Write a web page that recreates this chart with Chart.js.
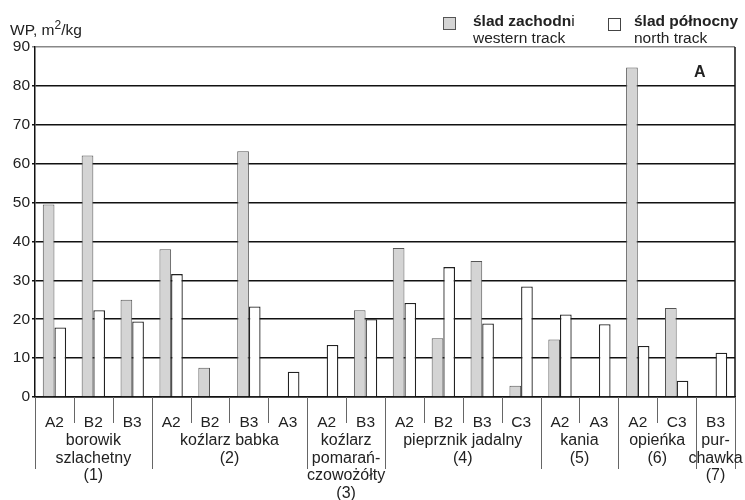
<!DOCTYPE html>
<html>
<head>
<meta charset="utf-8">
<script src="https://cdn.jsdelivr.net/npm/chart.js@4/dist/chart.umd.min.js"></script>
<style>
  html, body { margin: 0; padding: 0; background: #fff; }
  body { width: 745px; height: 500px; position: relative; overflow: hidden;
         font-family: "Liberation Sans", Arial, sans-serif; color: #222; }
  #wrap { position: absolute; left: 0; top: 0; width: 745px; height: 500px; }
  .t { position: absolute; font-size: 15.5px; line-height: 17px; white-space: nowrap; color: #222; }
  .box { position: absolute; width: 11px; height: 11px; border: 1px solid #444; }
</style>
</head>
<body>
<div id="wrap"><canvas id="c"></canvas></div>
<div class="t" style="left:10px; top:21px;">WP, m<sup style="font-size:12px; vertical-align: 6px; line-height:0;">2</sup>/kg</div>
<div class="box" style="left:443px; top:17px; background:#d4d4d4; border-color:#555;"></div>
<div class="t" style="left:473px; top:12px;"><b>ślad zachodn</b>i</div>
<div class="t" style="left:473px; top:29px;">western track</div>
<div class="box" style="left:608px; top:18px; background:#fff;"></div>
<div class="t" style="left:634px; top:12px;"><b>ślad północny</b></div>
<div class="t" style="left:634px; top:29px;">north track</div>
<div class="t" style="left:694px; top:63px; font-size:16px; font-weight:bold;">A</div>
<script>
const subLabels = ['A2','B2','B3','A2','B2','B3','A3','A2','B3','A2','B2','B3','C3','A2','A3','A2','C3','B3'];
const westernTrack = [49.5, 62.1, 25.0, 38.0, 7.5, 63.2, null, null, 22.3, 38.3, 15.1, 35.0, 2.9, 14.8, null, 84.7, 22.9, null];
const northTrack = [17.9, 22.3, 19.4, 31.6, null, 23.3, 6.5, 13.4, 20.0, 24.2, 33.4, 18.9, 28.4, 21.2, 18.7, 13.1, 4.2, 11.4];
const groupNames = [
  ['borowik','szlachetny','(1)'],
  ['koźlarz babka','(2)'],
  ['koźlarz','pomarań-','czowożółty','(3)'],
  ['pieprznik jadalny','(4)'],
  ['kania','(5)'],
  ['opieńka','(6)'],
  ['pur-','chawka','(7)']
];
const groupSizes = [3,4,2,4,2,2,1];
const yTicks = [0,10,20,30,40,50,60,70,80,90];

const FONT = '"Liberation Sans", Arial, sans-serif';

const groupPlugin = {
  id: 'groupPlugin',
  afterDraw(chart) {
    const ctx = chart.ctx;
    const x = chart.scales.x;
    const area = chart.chartArea;
    const n = subLabels.length;
    const step = (x.right - x.left) / n;
    const b = (i) => i < n ? x.getPixelForValue(i) - step / 2 : x.getPixelForValue(n - 1) + step / 2;
    ctx.save();
    // right border
    ctx.strokeStyle = '#111';
    ctx.lineWidth = 1.5;
    ctx.beginPath();
    ctx.moveTo(area.right, area.top);
    ctx.lineTo(area.right, area.bottom);
    ctx.stroke();
    // sub separators
    ctx.strokeStyle = '#666';
    ctx.lineWidth = 1;
    for (let i = 0; i <= n; i++) {
      const px = Math.round(b(i)) + 0.5;
      ctx.beginPath();
      ctx.moveTo(px, area.bottom);
      ctx.lineTo(px, area.bottom + 26);
      ctx.stroke();
    }
    // group separators and labels
    let start = 0;
    const bounds = [0];
    groupSizes.forEach(s => { start += s; bounds.push(start); });
    bounds.forEach(k => {
      const px = Math.round(b(k)) + 0.5;
      ctx.beginPath();
      ctx.moveTo(px, area.bottom);
      ctx.lineTo(px, area.bottom + 72);
      ctx.stroke();
    });
    ctx.font = '16px ' + FONT;
    ctx.fillStyle = '#222';
    ctx.textAlign = 'center';
    ctx.textBaseline = 'middle';
    for (let g = 0; g < groupSizes.length; g++) {
      const cx = (b(bounds[g]) + b(bounds[g + 1])) / 2;
      groupNames[g].forEach((line, j) => {
        ctx.fillText(line, cx, area.bottom + 44 + j * 17.5);
      });
    }
    ctx.restore();
  }
};

new Chart(document.getElementById('c'), {
  type: 'bar',
  data: {
    labels: subLabels,
    datasets: [
      { label: 'ślad zachodni', data: westernTrack, backgroundColor: '#d4d4d4', borderColor: '#555', borderWidth: 1 },
      { label: 'ślad północny', data: northTrack, backgroundColor: '#ffffff', borderColor: '#222', borderWidth: 1.3 }
    ]
  },
  options: {
    responsive: true,
    maintainAspectRatio: false,
    animation: false,
    devicePixelRatio: 1,
    layout: { padding: { left: 0, right: 10, top: 47, bottom: 0 } },
    datasets: { bar: { categoryPercentage: 0.6, barPercentage: 1.0 } },
    plugins: { legend: { display: false }, tooltip: { enabled: false } },
    scales: {
      x: {
        grid: { display: false },
        border: { display: true, color: '#111', width: 1.5 },
        ticks: { color: '#222', font: { family: FONT, size: 15.5 }, padding: 8, maxRotation: 0, autoSkip: false },
        afterFit: (s) => { s.height = 103; }
      },
      y: {
        min: 0, max: 90,
        afterBuildTicks: (s) => { s.ticks = yTicks.map(v => ({ value: v })); },
        grid: {
          color: (c) => c.tick && c.tick.value === 90 ? '#888' : '#111',
          lineWidth: 1.5,
          tickLength: 3
        },
        border: { display: true, color: '#111', width: 1.5 },
        ticks: { color: '#222', font: { family: FONT, size: 15.5 }, padding: 2 },
        afterFit: (s) => { s.width = 35; }
      }
    }
  },
  plugins: [groupPlugin]
});
</script>
</body>
</html>
